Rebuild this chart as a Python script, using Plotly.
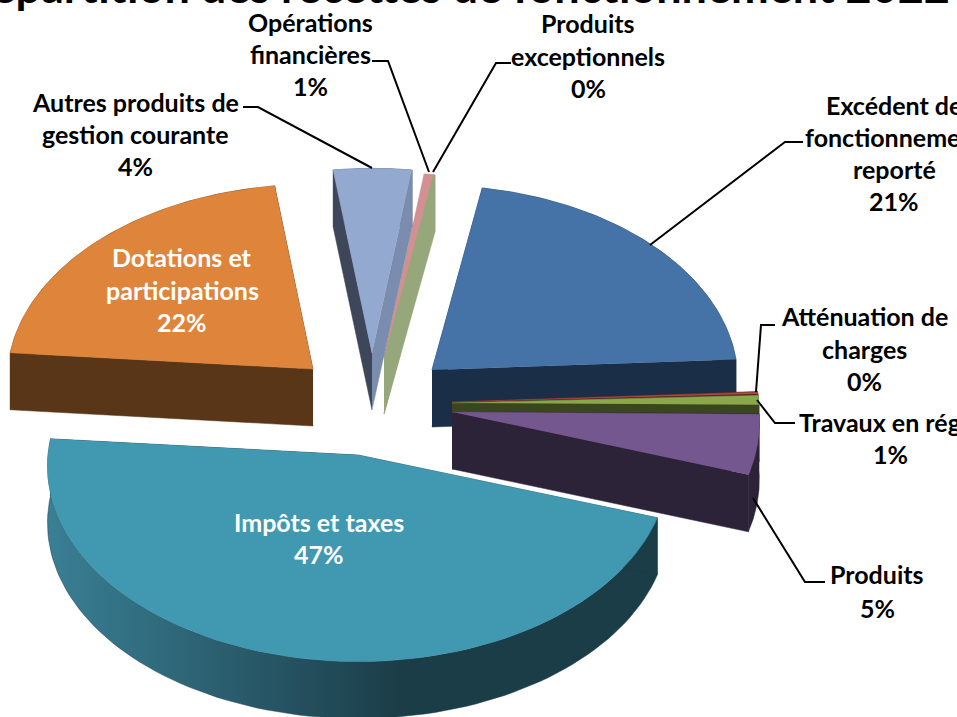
import numpy as np
import plotly.graph_objects as go

CATEGORIES = ["Excédent de fonctionnement reporté", "Atténuation de charges", "Travaux en régie",
              "Produits", "Impôts et taxes", "Dotations et participations",
              "Autres produits de gestion courante", "Opérations financières", "Produits exceptionnels"]
VALUES = [21.4, 0.2, 0.8, 5.0, 46.3, 21.6, 4.3, 0.5, 0.1]
TITLE = "Répartition des recettes de fonctionnement 2022"

# styling / geometry of the exploded, tilted 3D pie
START_DEG, RX, RY, PERSP, DEPTH = 10.0, 310.0, 195.0, 0.056, 57.0
RX_SCALE = [0.985, 0.99, 0.99, 0.99, 1.0, 0.985, 1.0, 1.0, 1.0]
APEX = [(432, 370), (452, 402), (452, 403), (452, 412), (358, 455), (313, 369), (372, 353), (384, 357), (384, 357)]
TOP = ["#4573A7", "#B24C48", "#8AA84B", "#74578F", "#4099B0", "#DE853B", "#94A9CF", "#D29190", "#96A87B"]
WALL = ["#1B2E47", "#5C2423", "#3A461F", "#2D2338", "#1B3D48", "#5A3618", "#3E4759", "#D29190", "#96A87B"]
WALL2 = ["#1B2E47", "#5C2423", "#3A461F", "#2D2338", "#1B3D48", "#5A3618", "#7A8DAE", "#96A87B", "#96A87B"]
ORDER = [0, 1, 2, 8, 7, 6, 5, 3, 4]


def project(apex, deg, scale):
    t = np.radians(np.asarray(deg, dtype=float))
    u, v = np.sin(t), np.cos(t)
    w = 1 + PERSP * v
    return apex[0] + RX * scale * u / w, apex[1] - RY * v / w


def poly(fig, xs, ys, color, gradient=None):
    kw = dict(fillgradient=gradient) if gradient else dict(fillcolor=color)
    fig.add_trace(go.Scatter(x=list(xs), y=list(ys), mode="lines", fill="toself",
                             line=dict(width=0.5, color=color), hoverinfo="skip", showlegend=False, **kw))


fig = go.Figure()
edges = START_DEG + np.concatenate([[0], np.cumsum(VALUES)]) / sum(VALUES) * 360
for i in ORDER:
    ap, d0, d1 = APEX[i], edges[i], edges[i + 1]
    arc = np.linspace(d0, d1, 90)
    ax, ay = project(ap, arc, RX_SCALE[i])
    # rim
    grad = None
    if CATEGORIES[i] == "Impôts et taxes":
        grad = dict(type="horizontal", colorscale=[[0, "#3A7F95"], [0.58, "#1B3D48"], [1, "#1B3D48"]])
    poly(fig, np.r_[ax, ax[::-1]], np.r_[ay, ay[::-1] + DEPTH], WALL[i], grad)
    # cut faces
    poly(fig, [ap[0], ax[0], ax[0], ap[0]], [ap[1], ay[0], ay[0] + DEPTH, ap[1] + DEPTH], WALL[i])
    poly(fig, [ap[0], ax[-1], ax[-1], ap[0]], [ap[1], ay[-1], ay[-1] + DEPTH, ap[1] + DEPTH], WALL2[i])
    # top face
    poly(fig, np.r_[ap[0], ax], np.r_[ap[1], ay], TOP[i])

LEADERS = [
    [(243, 107), (258, 107), (372, 168)],
    [(372, 61), (388, 61), (429, 172)],
    [(511, 63), (496, 63), (433, 172)],
    [(803, 142), (785, 142), (650, 245)],
    [(775, 325), (761, 325), (756, 392)],
    [(795, 423), (775, 423), (757, 400)],
    [(825, 582), (805, 582), (753, 498)],
]
for pts in LEADERS:
    fig.add_trace(go.Scatter(x=[p[0] for p in pts], y=[p[1] for p in pts], mode="lines",
                             line=dict(color="black", width=2), hoverinfo="skip", showlegend=False))

LABELS = [
    (["Opérations", "financières", "1%"], 310, [22, 54, 86], "black"),
    (["Produits", "exceptionnels", "0%"], 588, [23, 56, 88], "black"),
    (["Autres produits de", "gestion courante", "4%"], 135, [102, 134, 166], "black"),
    (["Excédent de", "fonctionnement", "reporté", "21%"], 894, [105, 137, 169, 201], "black"),
    (["Atténuation de", "charges", "0%"], 864, [316, 349, 381], "black"),
    (["Travaux en régie", "1%"], 890, [422, 454], "black"),
    (["Produits", "5%"], 877, [574, 608], "black"),
    (["Dotations et", "participations", "22%"], 182, [257, 290, 322], "white"),
    (["Impôts et taxes", "47%"], 319, [522, 554], "white"),
]
annotations = []
for lines, xc, ys, col in LABELS:
    for line, yc in zip(lines, ys):
        annotations.append(dict(x=xc, y=yc, xref="x", yref="y", text="<b>%s</b>" % line, showarrow=False,
                                xanchor="center", yanchor="middle",
                                font=dict(family="Lato", size=25, color=col)))
annotations.append(dict(x=0.478, y=1, xref="paper", yref="paper", yshift=-15, text="<b>%s</b>" % TITLE,
                        showarrow=False, xanchor="center", yanchor="bottom",
                        font=dict(family="Lato", size=45, color="black")))

fig.update_layout(
    width=957, height=717, margin=dict(l=0, r=0, t=0, b=0), paper_bgcolor="white", plot_bgcolor="white",
    xaxis=dict(range=[0, 957], visible=False, fixedrange=True),
    yaxis=dict(range=[717, 0], visible=False, fixedrange=True),
    annotations=annotations, showlegend=False,
)
fig.write_html("out.html", config=dict(displayModeBar=False),
               post_script="document.body.style.margin='0';document.documentElement.style.overflow='hidden';")
